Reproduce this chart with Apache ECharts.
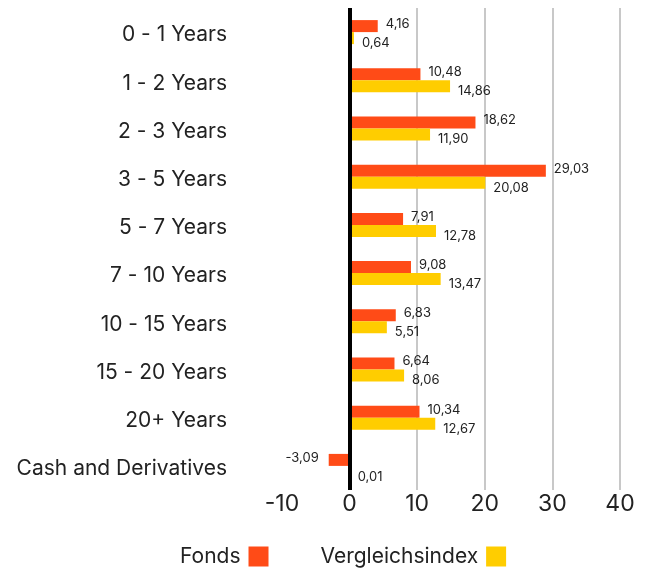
<!DOCTYPE html>
<html><head><meta charset="utf-8">
<script src="https://cdn.jsdelivr.net/npm/echarts@6/dist/echarts.min.js"></script>
<style>html,body{margin:0;padding:0;background:#fff}#c{width:646px;height:574px}</style>
</head><body><div id="c"></div>
<script>
const categories = ['0 - 1 Years','1 - 2 Years','2 - 3 Years','3 - 5 Years','5 - 7 Years','7 - 10 Years','10 - 15 Years','15 - 20 Years','20+ Years','Cash and Derivatives'];
const fonds = [4.16, 10.48, 18.62, 29.03, 7.91, 9.08, 6.83, 6.64, 10.34, -3.09];
const vergleichsindex = [0.64, 14.86, 11.90, 20.08, 12.78, 13.47, 5.51, 8.06, 12.67, 0.01];
const seriesNames = ['Fonds', 'Vergleichsindex'];
const FONT = 'Inter, "Noto Sans", sans-serif';
const fmt = v => v.toFixed(2).replace('.', ',');
const chart = echarts.init(document.getElementById('c'));
chart.setOption({
  animation: false,
  textStyle: {fontFamily: FONT},
  grid: {left: 282, right: 26, top: 8, height: 482},
  legend: {
    top: 546, left: 180, align: 'right', icon: 'rect', padding: 0,
    itemWidth: 20, itemHeight: 20, itemGap: 52,
    textStyle: {fontSize: 21, color: '#222', fontFamily: FONT, padding: [0, 3, 0, 0]},
    data: seriesNames
  },
  xAxis: {
    type: 'value', min: -10, max: 40, interval: 10,
    axisLine: {show: false}, axisTick: {show: false},
    axisLabel: {fontSize: 23, color: '#222', margin: 3, fontFamily: FONT},
    splitLine: {show: true, lineStyle: {width: 2, color: ['rgba(0,0,0,0)', 'rgba(0,0,0,0)', '#c8c8c8', '#c8c8c8', '#c8c8c8', '#c8c8c8']}}
  },
  yAxis: {
    type: 'category', data: categories, inverse: true,
    axisLine: {show: false}, axisTick: {show: false},
    axisLabel: {fontSize: 21, color: '#222', margin: 55, fontFamily: FONT, verticalAlign: 'top', lineHeight: 6}
  },
  series: [
    {
      name: seriesNames[0], type: 'bar', barWidth: 12, barGap: '0%',
      itemStyle: {color: '#FF4B17'},
      data: fonds.map(v => v < 0 ? {value: v, label: {position: 'left', distance: 10, offset: [0, -2]}} : v),
      label: {show: true, position: 'right', distance: 8, offset: [0, -2], fontSize: 13, color: '#222', formatter: p => fmt(p.value)},
      markLine: {
        silent: true, symbol: 'none', label: {show: false},
        lineStyle: {color: '#000', width: 4, type: 'solid'},
        data: [{xAxis: 0}]
      },
      z: 2
    },
    {
      name: seriesNames[1], type: 'bar', barWidth: 12,
      itemStyle: {color: '#FFCD00'},
      data: vergleichsindex,
      label: {show: true, position: 'right', distance: 8, offset: [0, 5], fontSize: 13, color: '#222', formatter: p => fmt(p.value)},
      z: 2
    }
  ]
});
</script></body></html>
